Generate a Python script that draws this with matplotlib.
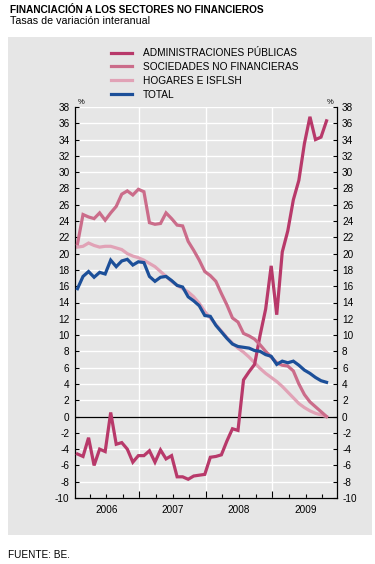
import numpy as np
import matplotlib
matplotlib.use("Agg")
import matplotlib.pyplot as plt
from matplotlib.patches import Rectangle

plt.rcParams['font.family'] = ['Liberation Sans', 'DejaVu Sans']
plt.rcParams['axes.unicode_minus'] = False

# monthly data, Jan 2006 - Oct 2009
admin = [-4.6, -4.9, -2.6, -6.0, -4.0, -4.3, 0.5, -3.4, -3.2, -4.0, -5.6, -4.8,
         -4.8, -4.2, -5.6, -4.1, -5.2, -4.8, -7.4, -7.4, -7.7, -7.3, -7.2, -7.1,
         -5.0, -4.9, -4.7, -3.0, -1.5, -1.7, 4.5, 5.5, 6.4, 10.0, 13.2, 18.5,
         12.5, 20.2, 22.8, 26.6, 29.0, 33.5, 36.8, 34.0, 34.3, 36.3]
sociedades = [21.2, 24.8, 24.5, 24.3, 25.0, 24.1, 25.0, 25.8, 27.3, 27.7, 27.2, 27.9,
              27.6, 23.8, 23.6, 23.7, 25.0, 24.3, 23.5, 23.4, 21.5, 20.4, 19.2, 17.8,
              17.3, 16.6, 15.1, 13.7, 12.1, 11.6, 10.2, 9.9, 9.5, 8.8, 8.0, 7.3,
              6.6, 6.3, 6.2, 5.6, 4.0, 2.7, 1.8, 1.2, 0.6, 0.0]
hogares = [20.8, 20.9, 21.3, 21.0, 20.8, 20.9, 20.9, 20.7, 20.5, 20.0, 19.7, 19.5,
           19.2, 18.8, 18.4, 17.8, 17.2, 16.6, 16.1, 15.7, 15.3, 14.7, 13.9, 12.9,
           12.1, 11.3, 10.5, 9.7, 9.0, 8.4, 7.9, 7.3, 6.6, 5.9, 5.3, 4.8,
           4.3, 3.7, 3.0, 2.3, 1.6, 1.1, 0.7, 0.4, 0.2, 0.0]
total = [15.7, 17.2, 17.8, 17.1, 17.7, 17.5, 19.2, 18.4, 19.1, 19.3, 18.6, 19.0,
         18.9, 17.2, 16.6, 17.1, 17.2, 16.7, 16.1, 15.9, 14.7, 14.2, 13.6, 12.4,
         12.3, 11.2, 10.4, 9.6, 8.9, 8.6, 8.5, 8.4, 8.1, 8.0, 7.6, 7.4,
         6.4, 6.8, 6.6, 6.8, 6.3, 5.7, 5.3, 4.8, 4.4, 4.2]
years = ["2006", "2007", "2008", "2009"]
labels = ["ADMINISTRACIONES PÚBLICAS", "SOCIEDADES NO FINANCIERAS",
          "HOGARES E ISFLSH", "TOTAL"]
colors = ["#B8396A", "#CB6C8A", "#E1A2B6", "#1C4F99"]

x = np.arange(len(admin)) + 0.8

fig = plt.figure(figsize=(3.75, 5.64), dpi=100)
fig.patches.append(Rectangle((8 / 375, 1 - 535 / 564), 364 / 375, 498 / 564,
                             transform=fig.transFigure, facecolor="#E6E6E6",
                             edgecolor="none", zorder=-5))

ax = fig.add_axes([75 / 375, 1 - 498 / 564, 261.5 / 375, 391 / 564])
ax.set_facecolor("#E6E6E6")

lines = []
for series, c, lab in zip([admin, sociedades, hogares, total], colors, labels):
    l, = ax.plot(x, series, color=c, lw=2.3, label=lab, zorder=3,
                 solid_joinstyle="miter")
    lines.append(l)
# hogares sits under the other lines
lines[2].set_zorder(2.5)

ax.set_ylim(-10, 38)
ax.set_xlim(0.35, 47.6)
ax.set_yticks(np.arange(-10, 39, 2))
ax.grid(axis="y", color="white", lw=1.0, zorder=1)
for yr in [12, 24, 36]:
    ax.axvline(yr, color="white", lw=1.0, zorder=1)
ax.axhline(0, color="black", lw=0.9, zorder=2)

ax.spines["top"].set_visible(False)
for s in ["left", "right", "bottom"]:
    ax.spines[s].set_linewidth(0.9)

ax.tick_params(axis="y", which="both", direction="in", length=3, width=0.8,
               labelsize=7.2, left=True, right=True, labelleft=True, labelright=True,
               pad=4)
ax.set_xticks([12, 24, 36])
ax.set_xticks([3, 6, 9, 15, 18, 21, 27, 30, 33, 39, 42, 45], minor=True)
ax.tick_params(axis="x", which="major", direction="in", length=5, width=0.8,
               labelbottom=False)
ax.tick_params(axis="x", which="minor", direction="in", length=3, width=0.8)
for i, yr in enumerate(years):
    ax.text(6 + 12 * i, -10.9, yr, ha="center", va="top", fontsize=7.2)

ax.text(0.012, 1.003, "%", transform=ax.transAxes, fontsize=5.5, ha="left", va="bottom")
ax.text(0.988, 1.003, "%", transform=ax.transAxes, fontsize=5.5, ha="right", va="bottom")

fig.legend(handles=lines, loc="upper left", bbox_to_anchor=(107 / 375, 1 - 44 / 564),
           frameon=False, fontsize=7.3, handlelength=2.1, handletextpad=1.05,
           labelspacing=0.38, borderaxespad=0)

fig.text(10 / 375, 1 - 10 / 564, "FINANCIACIÓN A LOS SECTORES NO FINANCIEROS",
         fontsize=7.3, fontweight="bold", ha="left", va="center")
fig.text(10 / 375, 1 - 21 / 564, "Tasas de variación interanual",
         fontsize=7.7, ha="left", va="center")
fig.text(8 / 375, 1 - 555 / 564, "FUENTE: BE.", fontsize=7.2, ha="left", va="center")

fig.savefig("out.png", dpi=100)
